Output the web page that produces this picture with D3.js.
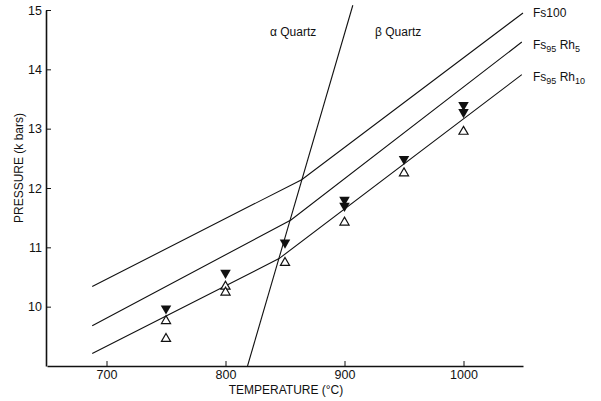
<!DOCTYPE html>
<html>
<head>
<meta charset="utf-8">
<script src="https://cdn.jsdelivr.net/npm/d3@7"></script>
<style>
  body { margin: 0; background: #fff; }
  text { font-family: "Liberation Sans", Arial, sans-serif; fill: #111; }
</style>
</head>
<body>
<div id="chart"></div>
<script>
// data
var xTicks = [700, 800, 900, 1000];
var yTicks = [10, 11, 12, 13, 14, 15];

// curves (temperature, pressure) with the kink at the quartz transition
var fs100T = [688, 864, 1050];
var fs100P = [10.34, 12.14, 14.95];
var rh5T = [688, 855, 1049];
var rh5P = [9.68, 11.46, 14.46];
var rh10T = [688, 845, 1049];
var rh10P = [9.21, 10.81, 13.91];

// alpha / beta quartz boundary
var quartzT = [818.5, 907];
var quartzP = [9, 15.08];

// filled (down) triangles
var filledT = [750, 800, 850, 900, 900, 950, 1000, 1000];
var filledP = [9.97, 10.57, 11.08, 11.80, 11.70, 12.49, 13.40, 13.28];
// open (up) triangles
var openT = [750, 750, 800, 800, 850, 900, 950, 1000];
var openP = [9.76, 9.46, 10.34, 10.24, 10.74, 11.42, 12.25, 12.95];

var W = 601, H = 401;

var svg = d3.select("#chart")
  .append("svg")
    .attr("width", W)
    .attr("height", H);

var x = d3.scaleLinear().domain([650, 1050]).range([47, 523]);
var y = d3.scaleLinear().domain([9, 15]).range([366, 10]);

function styleAxis(g) {
  g.select(".domain").attr("stroke", "#111").attr("stroke-width", 1.6);
  g.selectAll(".tick line").attr("stroke", "#111");
  g.selectAll("text").attr("font-size", "12.5px").attr("fill", "#111")
    .attr("font-family", "Liberation Sans, Arial, sans-serif");
}

// axes, ticks pointing inward
svg.append("g")
  .attr("transform", "translate(0,366)")
  .call(d3.axisBottom(x).tickValues(xTicks).tickFormat(d3.format("d"))
    .tickSizeInner(-5).tickSizeOuter(0).tickPadding(4))
  .call(styleAxis);

svg.append("g")
  .attr("transform", "translate(46,0)")
  .call(d3.axisLeft(y).tickValues(yTicks).tickFormat(d3.format("d"))
    .tickSizeInner(-5).tickSizeOuter(0).tickPadding(4))
  .call(styleAxis);

// axis titles
svg.append("text")
  .attr("x", 286)
  .attr("y", 394)
  .attr("text-anchor", "middle")
  .attr("font-size", "12px")
  .text("TEMPERATURE (°C)");

svg.append("text")
  .attr("transform", "translate(23,168) rotate(-90)")
  .attr("text-anchor", "middle")
  .attr("font-size", "12px")
  .text("PRESSURE (k bars)");

// lines
var line = d3.line()
  .x(function(d){ return x(d[0]); })
  .y(function(d){ return y(d[1]); });

var curves = [
  d3.zip(fs100T, fs100P),
  d3.zip(rh5T, rh5P),
  d3.zip(rh10T, rh10P),
  d3.zip(quartzT, quartzP)
];

svg.selectAll(".curve")
  .data(curves)
  .enter()
  .append("path")
  .attr("class", "curve")
  .attr("d", line)
  .attr("fill", "none")
  .attr("stroke", "#111")
  .attr("stroke-width", 1.1);

// markers
var filled = d3.zip(filledT, filledP);
var open = d3.zip(openT, openP);

svg.selectAll(".filled")
  .data(filled)
  .enter()
  .append("path")
  .attr("class", "filled")
  .attr("d", d3.symbol().type(d3.symbolTriangle).size(48))
  .attr("transform", function(d){ return "translate(" + x(d[0]) + "," + y(d[1]) + ") rotate(180)"; })
  .attr("fill", "#111");

svg.selectAll(".open")
  .data(open)
  .enter()
  .append("path")
  .attr("class", "open")
  .attr("d", d3.symbol().type(d3.symbolTriangle).size(36))
  .attr("transform", function(d){ return "translate(" + x(d[0]) + "," + y(d[1]) + ")"; })
  .attr("fill", "#fff")
  .attr("stroke", "#111")
  .attr("stroke-width", 1.2);

// region labels
svg.append("text")
  .attr("x", 270).attr("y", 36)
  .attr("font-size", "12px")
  .text("α Quartz");

svg.append("text")
  .attr("x", 375).attr("y", 36)
  .attr("font-size", "12px")
  .text("β Quartz");

// curve labels with subscripts
function label(yPos, parts) {
  var t = svg.append("text")
    .attr("x", 533)
    .attr("y", yPos)
    .attr("font-size", "12px");
  parts.forEach(function(p){
    t.append("tspan")
      .attr("font-size", p[1] ? "9px" : "12px")
      .attr("dy", p[1] ? 3 : (p[2] ? -3 : 0))
      .text(p[0]);
  });
}
label(17, [["Fs100", false]]);
label(49, [["Fs", false], ["95", true], [" Rh", false, true], ["5", true]]);
label(81, [["Fs", false], ["95", true], [" Rh", false, true], ["10", true]]);
</script>
</body>
</html>
